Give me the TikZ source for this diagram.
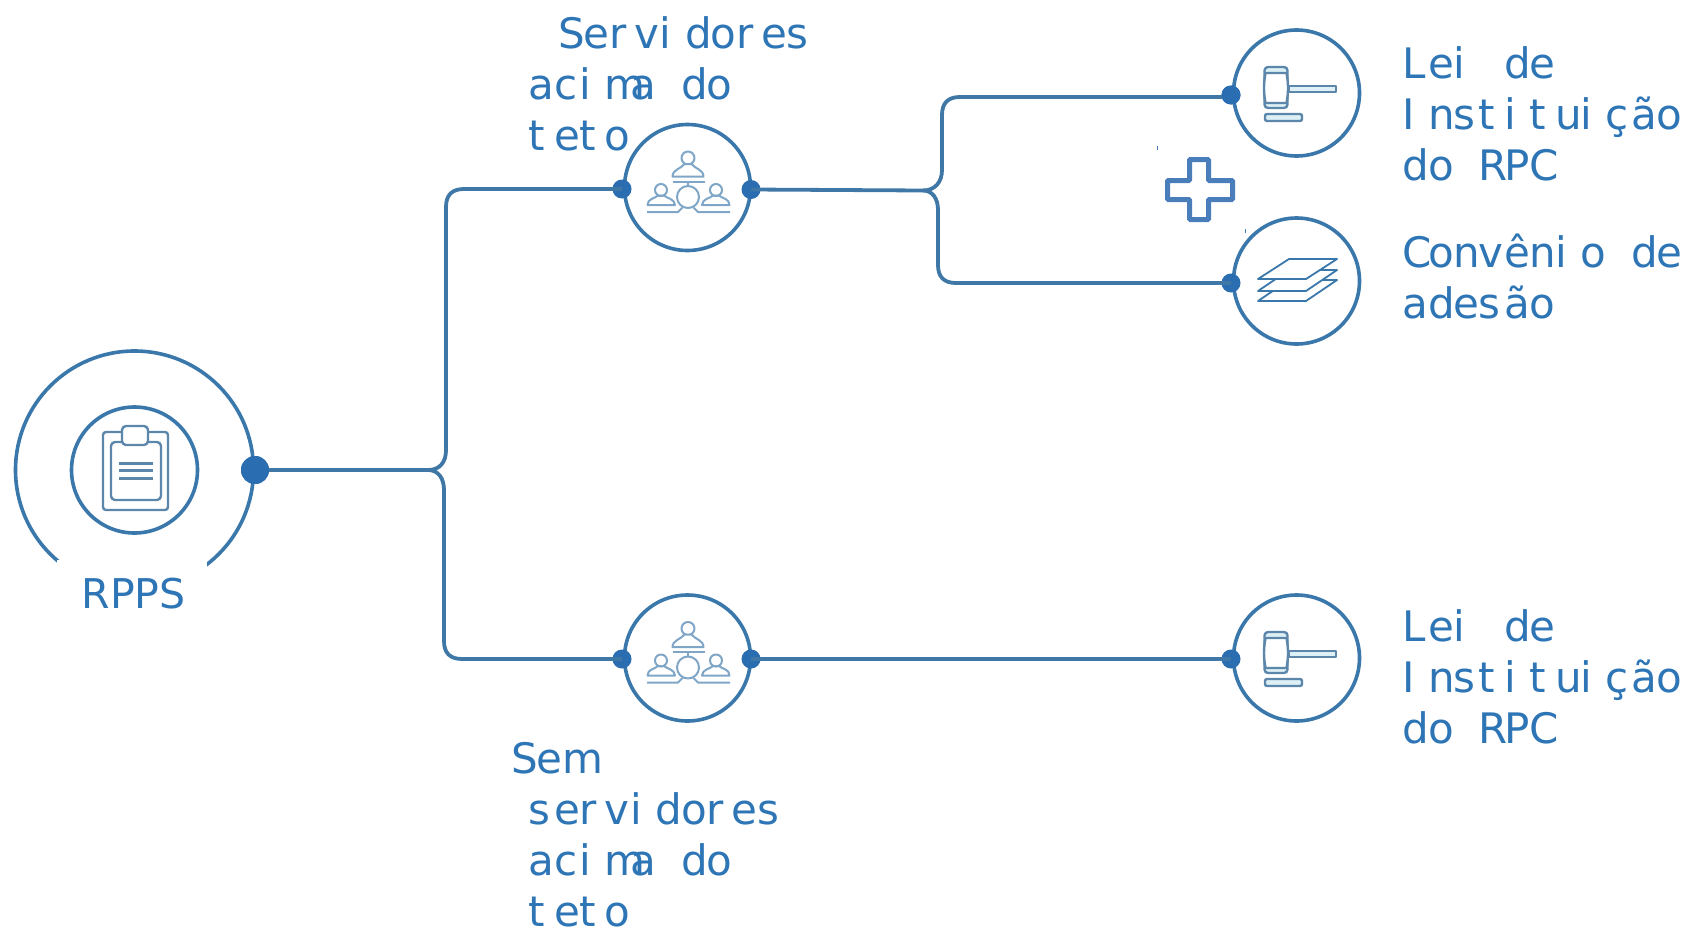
\documentclass[tikz,border=0pt]{standalone}
\usepackage{fontspec}
\setmainfont{DejaVu Sans}
\usetikzlibrary{calc}
\definecolor{txt}{HTML}{2E75B6}
\definecolor{ring}{HTML}{3A77AA}
\definecolor{wire}{HTML}{3F78A6}
\definecolor{dotc}{HTML}{2A6DB0}
\definecolor{icon}{HTML}{5C86AA}
\definecolor{iconlight}{HTML}{7FA6C6}
\definecolor{pale}{HTML}{DDF0F5}
\definecolor{plusc}{HTML}{4A7EBB}
\makeatletter
\newcommand\gridtext[1]{\@tfor\gch:=#1\do{\makebox[25.4pt][l]{\gch}}}
\makeatother
\tikzset{
  x=1pt,y=-1pt,
  ringnode/.style={circle,draw=ring,line width=3.6pt,minimum size=126pt,inner sep=0pt},
  dotnode/.style={circle,fill=dotc,minimum size=19pt,inner sep=0pt},
  link/.style={draw=wire,line width=3.8pt},
  lbl/.style={anchor=base west,inner sep=0pt,align=left,text=txt,font=\fontsize{42}{51}\selectfont},
  iconline/.style={draw=icon,line width=2.4pt,line join=round},
  thinline/.style={draw=iconlight,line width=2pt,line join=round},
  clipicon/.pic={
    \draw[iconline,rounded corners=3pt] (-31.5,-38) rectangle (33.5,40);
    \draw[iconline,rounded corners=4pt] (-23.5,-28) rectangle (26.5,30);
    \draw[iconline,fill=white,rounded corners=4pt] (-12.5,-44) rectangle (13.5,-25);
    \draw[iconline,line width=3pt] (-15.5,-7) -- (18.5,-7) (-15.5,0) -- (18.5,0) (-15.5,8) -- (18.5,8);
  },
  peopleicon/.pic={
    \draw[thinline] (0.5,-29.5) circle[radius=6.5];
    \draw[thinline,fill=white] (-15,-11) .. controls (-15,-18) and (-6,-19) .. (-3,-23.5) -- (4,-23.5) .. controls (7,-19) and (16,-18) .. (16,-11) -- cycle;
    \draw[thinline] (-15,-6) -- (17,-6);
    \draw[thinline] (0.5,-6) -- (0.5,-1);
    \draw[thinline] (0.5,9.5) circle[radius=11];
    \begin{scope}[xshift=-26.5pt]
      \draw[thinline] (0,2.5) circle[radius=6];
      \draw[thinline] (-13.5,17.5) .. controls (-13.5,11) and (-6,11) .. (-3,8) -- (3,8) .. controls (6,11) and (13.5,11) .. (14,17.5) -- cycle;
    \end{scope}
    \begin{scope}[xshift=28.5pt]
      \draw[thinline] (0,2.5) circle[radius=6];
      \draw[thinline] (-14,17.5) .. controls (-13.5,11) and (-6,11) .. (-3,8) -- (3,8) .. controls (6,11) and (13.5,11) .. (13.5,17.5) -- cycle;
    \end{scope}
    \draw[thinline] (-40.5,24.5) -- (-9.5,24.5) -- (-5,20);
    \draw[thinline] (42.5,24.5) -- (10.5,24.5) -- (6,20);
  },
  gavelicon/.pic={
    \draw[iconline,fill=pale] (-7.5,-7) rectangle (39.5,-1);
    \draw[iconline,fill=pale,rounded corners=3.5pt] (-32,-26) rectangle (-9,15);
    \draw[iconline,fill=white] (-31,-20) .. controls (-33,-10) and (-33,0) .. (-31,10) -- (-10,10) .. controls (-8,0) and (-8,-10) .. (-10,-20) -- cycle;
    \draw[iconline,fill=pale,rounded corners=2pt] (-31.5,21) rectangle (5.5,28);
  },
  layersicon/.pic={
    \draw[draw=ring,line width=1.8pt,line join=round,fill=white] (40.5,-1) -- (-7.5,-1) -- (-38.5,20) -- (9.5,20) -- cycle;
    \draw[draw=ring,line width=1.8pt,line join=round,fill=white] (40.5,-11) -- (-7.5,-11) -- (-38.5,10) -- (9.5,10) -- cycle;
    \draw[draw=ring,line width=1.8pt,line join=round,fill=white] (40.5,-22) -- (-7.5,-22) -- (-38.5,-2) -- (9.5,-2) -- cycle;
  }
}
\begin{document}
\begin{tikzpicture}
\useasboundingbox (0,0) rectangle (1689,929);

% routing points
\coordinate (jl) at (428,470);
\coordinate (jr) at (923,190.5);

% rings
\node[ringnode,minimum size=238pt] (rppsouter) at (134.5,470) {};
\node[fill=white,minimum width=150pt,minimum height=62pt,inner sep=0pt] (rppsmask) at (132,591) {};
\node[ringnode] (rppsinner) at (134.5,470) {};
\node[ringnode] (acima) at (687.5,187.5) {};
\node[ringnode] (sem) at (687.5,658) {};
\node[ringnode] (lei1) at (1296.5,93) {};
\node[ringnode] (conv) at (1296.5,281) {};
\node[ringnode] (lei2) at (1296.5,658) {};

% icons
\pic at (rppsinner.center) {clipicon};
\pic at (acima.center) {peopleicon};
\pic at (sem.center) {peopleicon};
\pic at (lei1.center) {gavelicon};
\pic at (conv.center) {layersicon};
\pic at (lei2.center) {gavelicon};

% connectors
\node[dotnode,minimum size=28pt] (d0) at (255,470) {};
\node[dotnode] (d1a) at (622,189) {};
\node[dotnode] (d1b) at (751,189.5) {};
\node[dotnode] (d2a) at (622,659) {};
\node[dotnode] (d2b) at (751,659) {};
\node[dotnode] (d3) at (1231,95) {};
\node[dotnode] (d4) at (1231,283) {};
\node[dotnode] (d5) at (1231,659) {};

\draw[link] (d0.center) -- (jl);
\draw[link] (jl) .. controls (440,470) and (446,462) .. (446,450) -- (446,207) .. controls (446,195) and (452,189) .. (464,189) -- (d1a.center);
\draw[link] (jl) .. controls (438,470) and (444,478) .. (444,490) -- (444,641) .. controls (444,653) and (450,659) .. (462,659) -- (d2a.center);
\draw[link] (d1b.center) -- (jr);
\draw[link] (jr) .. controls (935,190.5) and (942,182) .. (942,170) -- (942,115) .. controls (942,103) and (948,97) .. (960,97) -- (d3.center |- 0,97);
\draw[link] (jr) .. controls (932,190.5) and (938,198) .. (938,210) -- (938,265) .. controls (938,277) and (944,283) .. (956,283) -- (d4.center);
\draw[link] (d2b.center) -- (d5.center);
\node[dotnode,minimum size=28pt] at (d0.center) {};
\node[dotnode] at (d3.center) {};

% plus sign
\draw[plusc,line width=5pt,rounded corners=1pt]
  (1189.5,159.5) -- (1208.5,159.5) -- (1208.5,180.5) -- (1232.5,180.5) -- (1232.5,199.5) -- (1208.5,199.5)
  -- (1208.5,219.5) -- (1189.5,219.5) -- (1189.5,199.5) -- (1167.5,199.5) -- (1167.5,180.5) -- (1189.5,180.5) -- cycle;
\draw[plusc,line width=.8pt] (1157,146) -- (1157,150);
\draw[plusc,line width=.8pt] (1245,229) -- (1245,233);

% labels (a node's base is the baseline of its last line)
\node[lbl,font=\fontsize{41}{41}\selectfont] (trpps) at (81.5,608) {RPPS};
\node[lbl] (tacima) at (528.5,150) {\hspace*{29.5pt}\gridtext{Servidores}\\\gridtext{acima~do}\\\gridtext{teto}};
\node[lbl] (tsem) at (511,926) {\gridtext{Sem}\\\hspace*{17.5pt}\gridtext{servidores}\\\hspace*{17.5pt}\gridtext{acima~do}\\\hspace*{17.5pt}\gridtext{teto}};
\node[lbl] (tlei1) at (1402.5,180) {\gridtext{Lei~de}\\\gridtext{Instituição}\\\gridtext{do~RPC}};
\node[lbl] (tconv) at (1402.5,318) {\gridtext{Convênio~de}\\\gridtext{adesão}};
\node[lbl] (tlei2) at (1402.5,743) {\gridtext{Lei~de}\\\gridtext{Instituição}\\\gridtext{do~RPC}};
\end{tikzpicture}
\end{document}
